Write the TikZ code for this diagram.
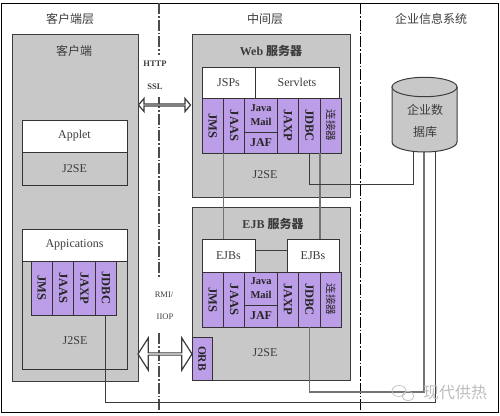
\documentclass[tikz,border=0pt]{standalone}
\usepackage{fontspec}
\setmainfont{Liberation Serif}
\newfontfamily\cjk{Noto Sans CJK SC}
\usetikzlibrary{positioning, shapes.arrows}
\definecolor{boxgray}{HTML}{C8C8C8}
\definecolor{apipurple}{HTML}{BC9DE8}
\definecolor{inkgray}{HTML}{3C3C3C}
\definecolor{markgray}{HTML}{BDBDBD}
\newcommand{\vtext}[1]{\rotatebox{-90}{#1}}
\tikzset{
	tier/.style={draw=inkgray, fill=boxgray, line width=1pt, anchor=north west, inner sep=0pt, outer sep=0pt},
	whitebox/.style={draw=black!80, fill=white, line width=0.9pt, anchor=north west, inner sep=0pt, outer sep=0pt,
		text=inkgray, font=\fontsize{12}{14}\selectfont},
	apibox/.style={draw=black!80, fill=apipurple, line width=0.8pt, inner sep=0pt, outer sep=0pt, align=center,
		text=black!85, font=\bfseries\fontsize{10.5}{14}\selectfont},
	apicol/.style={apibox, minimum width=21.4pt, minimum height=#1, font=\bfseries\fontsize{12.5}{14}\selectfont},
	caption/.style={text=inkgray, inner sep=0pt, align=center, font=\cjk\fontsize{12}{22}\selectfont},
	plain/.style={text=inkgray, inner sep=0pt, font=\fontsize{12}{14}\selectfont},
	proto/.style={text=inkgray, inner sep=0pt, font=\bfseries\fontsize{8.5}{10}\selectfont},
	divider/.style={line width=1.3pt, dash pattern=on 11pt off 2pt on 1.5pt off 2pt},
	wire/.style={draw=inkgray, line width=0.9pt},
	pipe/.style={draw=black!55, line width=1.5pt},
	dblarr/.style={double arrow, draw=inkgray, fill=white, line width=1.2pt, inner sep=0pt, outer sep=0pt}
}

\begin{document}
\begin{tikzpicture}[x=1pt, y=-1pt]
	\useasboundingbox (0,0) rectangle (500,415);
	\node[draw=black, line width=1pt, minimum width=497pt, minimum height=409pt, anchor=north west, inner sep=0pt] (frame) at (1,3) {};

	% tier captions
	\node[caption] (tclient) at (70,19) {客户端层};
	\node[caption] (tmiddle) at (265,19) {中间层};
	\node[caption] (tenterprise) at (431,19) {企业信息系统};

	% tier dividers
	\coordinate (da) at (159,3);
	\coordinate (db) at (159,55);
	\coordinate (dc) at (159,97);
	\coordinate (dd) at (159,278);
	\coordinate (de) at (159,333);
	\coordinate (df) at (159,412);
	\coordinate (dg) at (360.5,3);
	\coordinate (dh) at (360.5,412);
	\draw[divider, black!70] (da) -- (db);
	\draw[divider, black!70] (dc) -- (dd);
	\draw[divider, black!70] (de) -- (df);
	\draw[divider, black] (dg) -- (dh);

	% client tier
	\node[tier, minimum width=126pt, minimum height=347pt] (client) at (12,34) {};
	\node[caption] (clientcap) at (74,51) {客户端};
	\node[whitebox, minimum width=105pt, minimum height=32pt] (applet) at (22,120) {Applet};
	\node[whitebox, fill=boxgray, minimum width=105pt, minimum height=33pt] (appletse) at (22,152) {J2SE};
	\node[whitebox, fill=boxgray, minimum width=105pt, minimum height=140pt] (appse) at (22,229) {};
	\node[whitebox, minimum width=105pt, minimum height=32pt] (apps) at (22,229) {Appications};
	\node[apicol=54pt, anchor=north west] (cjms) at (31,261) {\vtext{JMS}};
	\node[apicol=54pt, right=0pt of cjms] (cjaas) {\vtext{JAAS}};
	\node[apicol=54pt, right=0pt of cjaas] (cjaxp) {\vtext{JAXP}};
	\node[apicol=54pt, right=0pt of cjaxp] (cjdbc) {\vtext{JDBC}};
	\node[plain] (clientse) at (75,341) {J2SE};

	% web server
	\node[tier, minimum width=158pt, minimum height=163pt] (web) at (192,34) {};
	\node[caption, font=\bfseries\fontsize{12}{14}\selectfont] (webcap) at (271,51) {Web {\cjk 服务器}};
	\node[whitebox, minimum width=53pt, minimum height=31pt] (jsps) at (202,67) {JSPs};
	\node[whitebox, minimum width=84pt, minimum height=31pt] (servlets) at (255,67) {Servlets};
	\node[apicol=55pt, anchor=north west] (wjms) at (202,98) {\vtext{JMS}};
	\node[apicol=55pt, right=0pt of wjms] (wjaas) {\vtext{JAAS}};
	\node[apibox, minimum width=32.5pt, minimum height=34pt, anchor=north west] (wmail) at (wjaas.north east) {Java\\Mail};
	\node[apibox, minimum width=32.5pt, minimum height=21pt, below=0pt of wmail, font=\bfseries\fontsize{12}{14}\selectfont] (wjaf) {JAF};
	\node[apicol=55pt, anchor=north west] (wjaxp) at (wmail.north east) {\vtext{JAXP}};
	\node[apicol=55pt, right=0pt of wjaxp] (wjdbc) {\vtext{JDBC}};
	\node[apicol=55pt, right=0pt of wjdbc, font=\cjk\fontsize{10.5}{12}\selectfont] (wconn) {\vtext{连接器}};
	\node[plain] (webse) at (265,175) {J2SE};

	% ejb server
	\node[tier, minimum width=158pt, minimum height=173pt] (ejb) at (192,207) {};
	\node[caption, font=\bfseries\fontsize{12}{14}\selectfont] (ejbcap) at (273,224) {EJB {\cjk 服务器}};
	\node[whitebox, minimum width=53pt, minimum height=33pt] (ejbsa) at (202,239) {EJBs};
	\node[whitebox, minimum width=52pt, minimum height=33pt] (ejbsb) at (287,239) {EJBs};
	\node[apicol=55pt, anchor=north west] (ejms) at (202,272) {\vtext{JMS}};
	\node[apicol=55pt, right=0pt of ejms] (ejaas) {\vtext{JAAS}};
	\node[apibox, minimum width=32.5pt, minimum height=33pt, anchor=north west] (email) at (ejaas.north east) {Java\\Mail};
	\node[apibox, minimum width=32.5pt, minimum height=22pt, below=0pt of email, font=\bfseries\fontsize{12}{14}\selectfont] (ejaf) {JAF};
	\node[apicol=55pt, anchor=north west] (ejaxp) at (email.north east) {\vtext{JAXP}};
	\node[apicol=55pt, right=0pt of ejaxp] (ejdbc) {\vtext{JDBC}};
	\node[apicol=55pt, right=0pt of ejdbc, font=\cjk\fontsize{10.5}{12}\selectfont] (econn) {\vtext{连接器}};
	\node[apibox, minimum width=20pt, minimum height=43pt, anchor=north west, font=\bfseries\fontsize{11.5}{14}\selectfont] (orb) at (192,337) {\vtext{ORB}};
	\node[plain] (ejbse) at (265,353) {J2SE};

	% protocols
	\node[proto] (http) at (155,64) {HTTP};
	\node[proto] (ssl) at (155,87) {SSL};
	\node[proto, font=\fontsize{8.5}{10}\selectfont] (rmi) at (164,295) {RMI/};
	\node[proto, font=\fontsize{8.5}{10}\selectfont] (iiop) at (165,317) {IIOP};
	\node[dblarr, minimum height=52pt, minimum width=13pt, double arrow head extend=3pt, double arrow tip angle=100] (arrhttp) at (164.5,105) {};
	\node[dblarr, minimum height=54pt, minimum width=32pt, double arrow head extend=8pt, double arrow tip angle=115] (arriiop) at (165,354) {};

	% links
	\coordinate (dbwire) at (413,130);
	\coordinate (dbpipe) at (424,130);
	\coordinate (dbclient) at (435,130);
	\draw[pipe] (wjms.south east) -- (wjms.south east |- ejbsa.north);
	\draw[pipe] (wjdbc.south east) -- (wjdbc.south east |- ejbsb.north);
	\draw[wire] (ejbsa.east |- 0,250.5) -- (ejbsb.west |- 0,250.5);
	\draw[wire] (wjdbc.south) |- (0,184 -| dbwire) -- (dbwire);
	\draw[pipe] (ejdbc.south) |- (0,392 -| dbpipe) -- (dbpipe);
	\draw[wire] (cjdbc.south) |- (0,402 -| dbclient) -- (dbclient);

	% database
	\draw[draw=inkgray, fill=boxgray, line width=1pt] (392,87) -- (392,142) arc[start angle=180, end angle=0, x radius=32.5, y radius=10] -- (457,87) -- cycle;
	\draw[draw=inkgray, fill=boxgray, line width=1pt] (424.5,87) ellipse (32.5 and 9.7);
	\node[caption] (dbtext) at (425,121) {企业数\\据库};

	% watermark
	\draw[markgray, line width=0.7pt] (399,391) ellipse (7pt and 5.5pt);
	\draw[markgray, line width=0.7pt] (408,396) ellipse (6pt and 4.5pt);
	\node[caption, text=markgray, font=\cjk\fontsize{16}{18}\selectfont] (mark) at (455,392) {现代供热};
\end{tikzpicture}
\end{document}
